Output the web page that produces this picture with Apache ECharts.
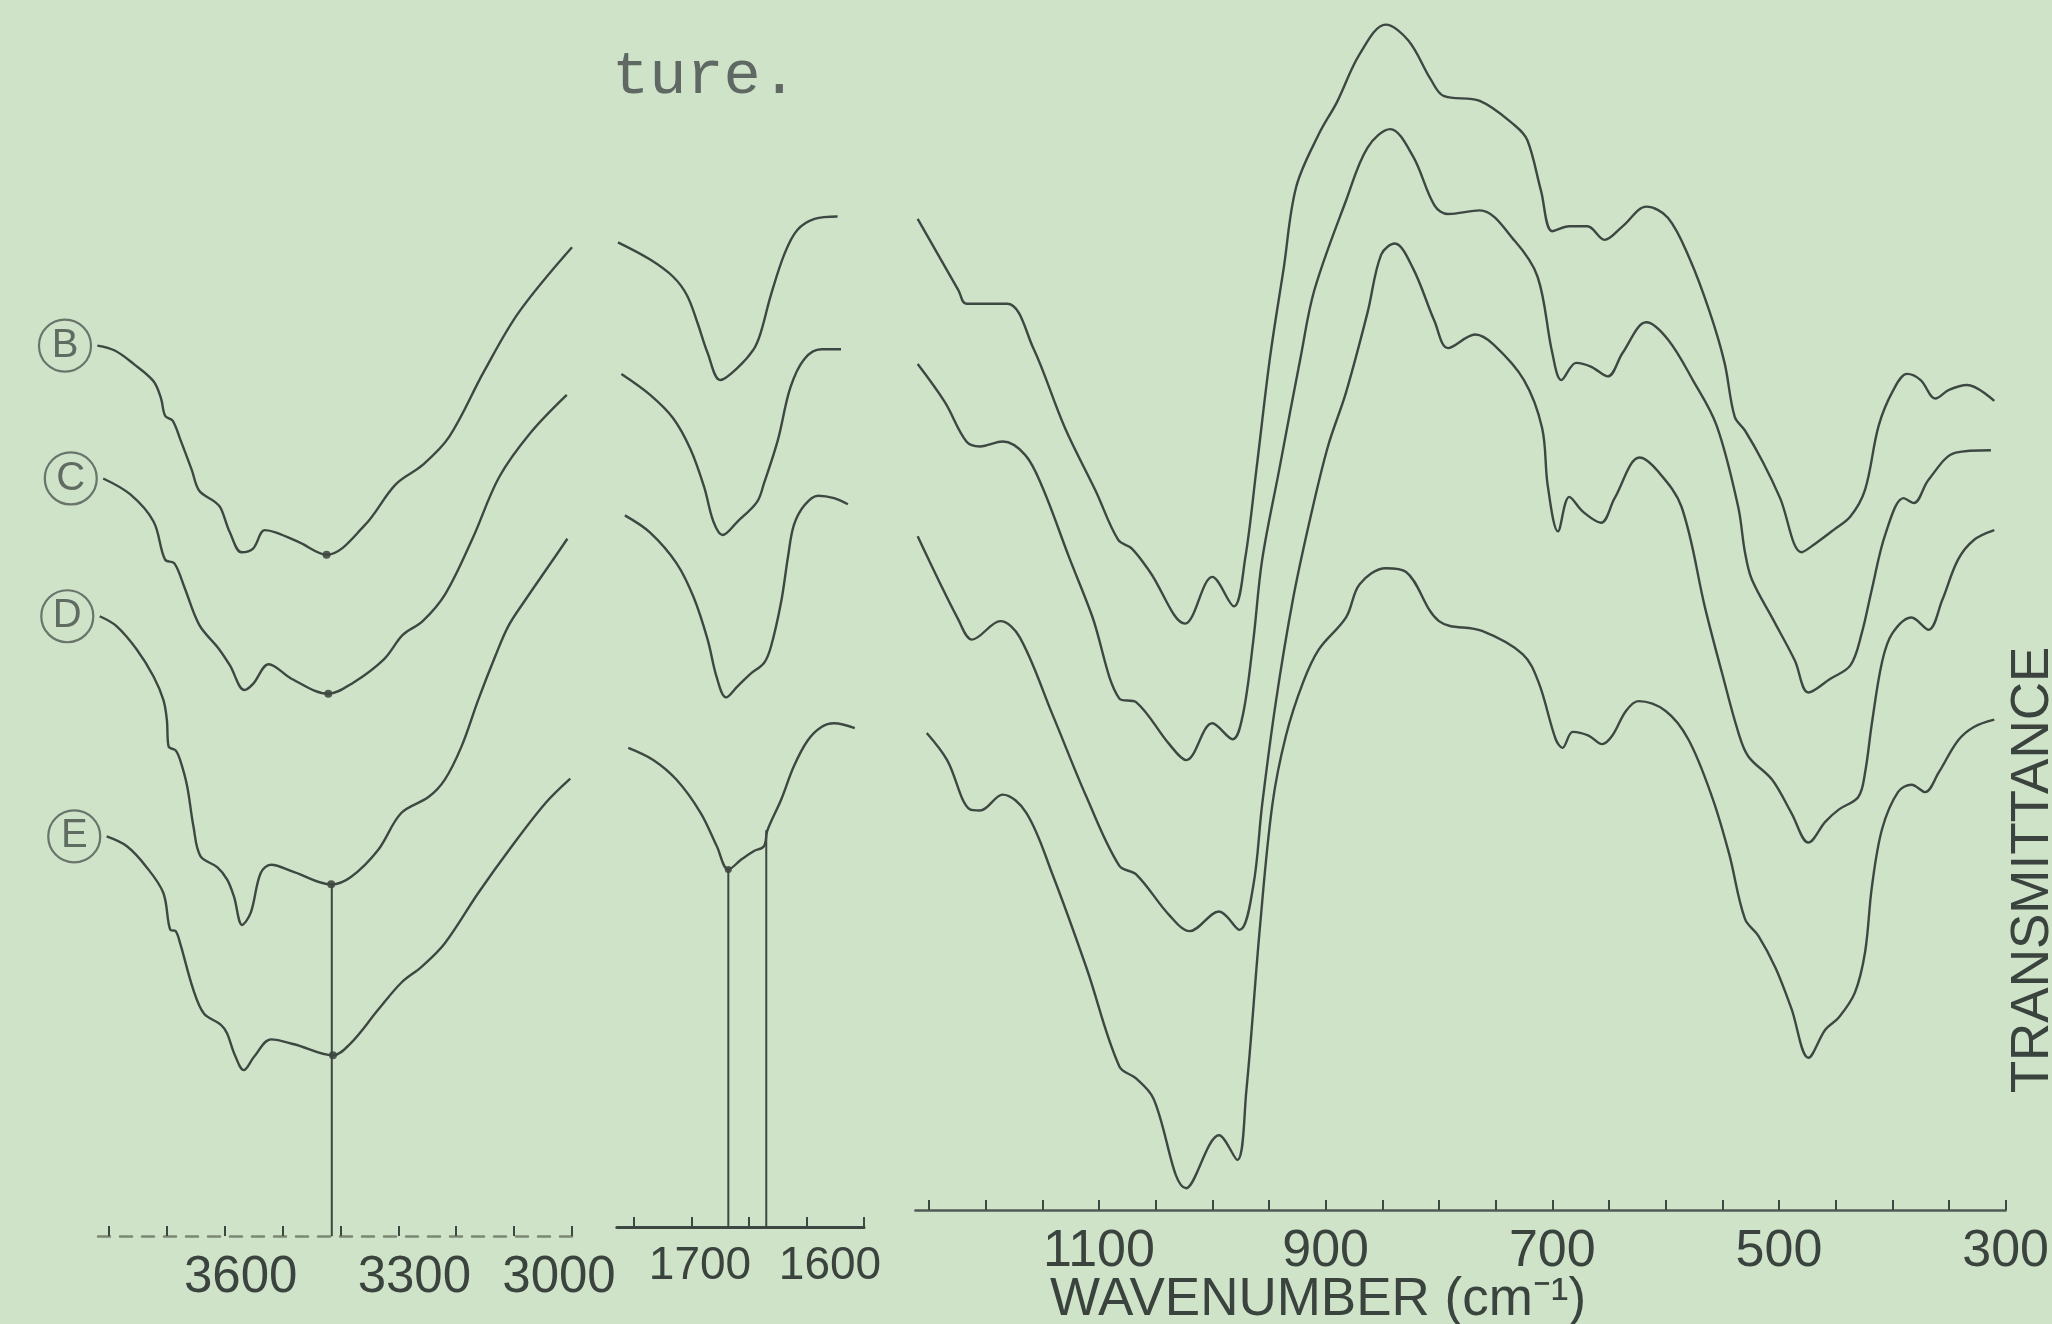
<!DOCTYPE html>
<html>
<head>
<meta charset="utf-8">
<title>IR spectra B-E</title>
<script src="https://cdn.jsdelivr.net/npm/echarts/dist/echarts.min.js"></script>
<style>
  html, body { margin: 0; padding: 0; background: #cfe3c9; }
  #chart { width: 2052px; height: 1324px; }
</style>
</head>
<body>
<div id="chart"></div>
<script>
// samples, top to bottom
const samples = ['B', 'C', 'D', 'E'];

// [wavenumber cm-1, transmittance (offset, arbitrary units)] -- 3800-3000 region
const B_OH = [[3820,71.9],[3790,71.5],[3757,70.4],[3723,69.0],[3710,67.6],[3703,66.2],[3690,65.8],[3677,64.3],[3657,61.8],[3644,60.1],[3617,59.2],[3607,58.7],[3591,56.7],[3571,55.1],[3551,55.4],[3531,56.9],[3511,56.7],[3471,55.9],[3424,54.9],[3358,57.3],[3305,60.6],[3258,62.2],[3212,64.5],[3152,69.8],[3092,74.6],[3000,79.9]];
const C_OH = [[3810,61.1],[3763,59.8],[3723,57.6],[3703,54.5],[3687,54.2],[3670,52.3],[3644,49.2],[3611,47.3],[3591,45.9],[3566,43.9],[3551,44.4],[3524,46.0],[3484,44.8],[3421,43.6],[3378,44.5],[3325,46.4],[3292,48.4],[3258,49.5],[3219,51.7],[3172,56.2],[3126,61.2],[3072,64.8],[3009,67.9]];
const D_OH = [[3816,49.9],[3787,49.1],[3752,47.2],[3723,45.0],[3706,43.1],[3700,41.5],[3697,39.3],[3685,39.0],[3677,38.2],[3665,36.1],[3654,32.8],[3642,30.4],[3613,29.5],[3596,28.5],[3584,27.1],[3570,24.8],[3555,25.8],[3538,29.0],[3520,29.7],[3480,29.1],[3416,28.1],[3382,28.7],[3335,30.9],[3295,33.9],[3248,35.2],[3220,36.6],[3191,39.3],[3162,43.1],[3133,46.6],[3110,49.1],[3081,51.2],[3040,54.0],[3008,56.2]];
const E_OH = [[3804,32.0],[3769,31.2],[3735,29.5],[3706,27.4],[3694,24.4],[3685,24.3],[3677,23.3],[3654,19.5],[3636,17.6],[3607,16.7],[3596,16.0],[3584,14.4],[3567,13.0],[3549,14.1],[3520,15.5],[3480,15.1],[3413,14.2],[3382,15.2],[3335,17.9],[3295,20.1],[3260,21.4],[3220,23.3],[3162,27.4],[3104,31.2],[3046,34.7],[3003,36.7]];

// 1750-1550 region
const B_CO = [[1764,80.3],[1736,78.9],[1716,77.5],[1704,76.0],[1695,73.8],[1686,71.3],[1675,69.1],[1660,70.1],[1646,71.6],[1640,72.9],[1631,76.0],[1619,79.4],[1608,81.3],[1593,82.2],[1573,82.4]];
const C_CO = [[1761,69.6],[1736,67.9],[1716,66.0],[1701,63.5],[1689,60.4],[1681,57.6],[1673,56.5],[1660,57.6],[1643,59.2],[1637,60.7],[1625,64.2],[1614,68.5],[1602,70.8],[1587,71.6],[1570,71.6]];
const D_CO = [[1758,58.1],[1736,56.7],[1713,54.2],[1698,51.4],[1686,48.0],[1678,44.9],[1670,43.3],[1660,44.2],[1649,45.2],[1637,46.1],[1631,47.4],[1622,51.1],[1616,54.8],[1611,57.3],[1602,58.9],[1590,59.7],[1576,59.5],[1564,59.0]];
const E_CO = [[1755,39.2],[1733,38.2],[1713,36.6],[1692,33.9],[1678,31.2],[1668,29.3],[1657,30.1],[1646,30.8],[1637,31.2],[1634,32.5],[1622,35.0],[1611,37.7],[1599,39.8],[1587,40.9],[1576,41.2],[1558,40.8]];

// 1250-300 region
const B_LOW = [[1260,82.2],[1224,76.4],[1217,75.3],[1181,75.3],[1158,71.7],[1130,65.2],[1103,60.1],[1083,56.1],[1071,55.4],[1055,53.5],[1024,49.3],[1000,53.1],[981,50.7],[971,54.6],[961,61.9],[949,71.0],[937,78.2],[926,84.8],[906,89.1],[890,91.7],[870,95.6],[847,98.0],[827,96.7],[807,93.5],[796,92.2],[764,91.8],[733,89.8],[722,88.6],[710,84.5],[700,81.2],[685,81.6],[669,81.6],[654,80.5],[638,81.6],[617,83.2],[598,82.3],[579,79.0],[561,74.6],[548,70.5],[539,66.1],[530,65.0],[514,62.4],[499,59.5],[480,55.1],[468,55.8],[452,56.9],[437,58.0],[424,60.2],[412,65.4],[399,68.3],[387,69.6],[375,69.1],[362,67.6],[350,68.3],[334,68.7],[310,67.4]];
const C_LOW = [[1260,70.4],[1236,67.3],[1217,64.1],[1205,63.7],[1185,64.1],[1165,63.0],[1150,60.4],[1126,54.6],[1106,49.9],[1082,43.2],[1067,42.9],[1038,39.5],[1023,38.2],[1000,41.2],[982,39.9],[973,41.9],[964,47.8],[956,54.5],[941,61.8],[922,71.0],[910,76.4],[882,83.7],[863,88.0],[843,89.5],[823,87.3],[804,83.3],[792,82.6],[764,82.9],[733,80.4],[713,77.5],[700,71.3],[692,69.1],[679,70.5],[666,70.2],[651,69.4],[638,71.3],[617,73.8],[598,72.4],[576,69.1],[555,65.4],[536,58.8],[530,55.1],[524,52.9],[505,49.6],[486,46.3],[474,43.7],[455,44.8],[437,45.9],[427,48.5],[418,52.1],[406,56.6],[390,59.5],[381,59.1],[368,61.0],[344,63.2],[313,63.4]];
const D_LOW = [[1260,56.4],[1224,49.6],[1212,48.0],[1187,49.5],[1170,48.2],[1141,41.9],[1111,35.2],[1082,29.6],[1067,28.9],[1038,25.6],[1020,24.3],[994,25.9],[976,24.4],[964,27.9],[956,34.6],[944,42.9],[929,51.2],[914,57.7],[898,63.7],[882,68.1],[863,74.6],[851,79.3],[839,80.2],[823,78.2],[804,73.9],[792,71.7],[768,72.8],[752,72.0],[725,69.1],[709,65.2],[704,60.5],[695,56.8],[685,59.6],[673,58.4],[657,57.5],[645,59.5],[623,62.8],[607,61.7],[586,58.8],[565,50.5],[550,45.2],[536,40.5],[527,38.5],[506,36.6],[489,33.9],[474,31.5],[459,33.2],[447,34.2],[430,35.2],[424,37.2],[418,41.2],[409,46.2],[400,48.5],[383,49.8],[368,48.8],[356,51.2],[342,54.5],[328,56.1],[310,56.9]];
const E_LOW = [[1252,40.4],[1234,38.2],[1214,34.2],[1205,34.1],[1185,35.4],[1164,33.9],[1141,28.9],[1111,21.3],[1082,13.3],[1067,12.3],[1052,10.7],[1023,3.4],[994,7.7],[978,5.7],[970,11.3],[958,24.6],[947,34.6],[935,40.2],[920,44.5],[906,47.2],[882,49.8],[870,52.5],[847,53.8],[829,53.5],[800,49.5],[762,48.7],[726,46.8],[712,44.5],[697,39.9],[691,39.2],[682,40.5],[668,40.2],[656,39.5],[647,40.2],[635,42.2],[624,43.0],[600,42.2],[580,39.9],[559,35.2],[544,30.6],[530,25.3],[518,23.9],[503,21.3],[489,18.0],[474,14.0],[459,16.3],[447,17.3],[433,19.3],[424,22.6],[418,27.9],[409,32.6],[395,35.6],[383,36.2],[371,35.6],[359,37.2],[342,39.8],[328,40.9],[310,41.5]];

// tick labels
const ticksOH = [3600, 3300, 3000];
const ticksCO = [1700, 1600];
const ticksLow = [1100, 900, 700, 500, 300];

// marked band positions (cm-1)
const markOH = 3415;
const marksCO = [1668, 1635];

const ink = '#3e4842';
const paper = '#cfe3c9';

function nearest(arr, x) {
  let best = arr[0];
  arr.forEach(p => { if (Math.abs(p[0] - x) < Math.abs(best[0] - x)) best = p; });
  return best;
}

const regions = [
  { data: [B_OH, C_OH, D_OH, E_OH] },
  { data: [B_CO, C_CO, D_CO, E_CO] },
  { data: [B_LOW, C_LOW, D_LOW, E_LOW] }
];

let myChart = echarts.init(document.getElementById('chart'), null, { renderer: 'canvas' });

let series = [];
regions.forEach((r, gi) => {
  r.data.forEach((d, si) => {
    series.push({
      name: samples[si] + gi,
      type: 'line',
      xAxisIndex: gi,
      yAxisIndex: gi,
      data: d,
      showSymbol: false,
      smooth: 0.35,
      clip: false,
      lineStyle: { color: ink, width: 2.4 },
      z: 3
    });
  });
});

// sample tags (circled letters) just left of each trace start
const tags = regions[0].data.map((d, i) => ({ name: samples[i], value: [d[0][0] + 56, d[0][1]] }));
series.push({
  type: 'scatter',
  xAxisIndex: 0, yAxisIndex: 0,
  clip: false,
  symbol: 'circle',
  symbolSize: 52,
  itemStyle: { color: 'rgba(0,0,0,0)', borderColor: '#4f5953', borderWidth: 2.2 },
  label: { show: true, position: 'inside', formatter: '{b}', color: '#434d47', fontSize: 40, fontFamily: 'Liberation Sans' },
  data: tags,
  z: 4
});

// vertical guide in OH region: from axis up to curve D
const dTop = nearest(D_OH, markOH);
series.push({
  type: 'line', xAxisIndex: 0, yAxisIndex: 0, clip: false, showSymbol: false,
  lineStyle: { color: ink, width: 2 },
  data: [[markOH, -0.5], [markOH, dTop[1]]]
});
// dots where the guide meets each trace
series.push({
  type: 'scatter', xAxisIndex: 0, yAxisIndex: 0, clip: false,
  symbolSize: 8, itemStyle: { color: '#2e3632' },
  data: regions[0].data.map(d => nearest(d, markOH))
});

// vertical guides in carbonyl region, up to curve E
marksCO.forEach(m => {
  const top = nearest(E_CO, m);
  series.push({
    type: 'line', xAxisIndex: 1, yAxisIndex: 1, clip: false, showSymbol: false,
    lineStyle: { color: ink, width: 2 },
    data: [[m, 0.3], [m, top[1]]]
  });
});
series.push({
  type: 'scatter', xAxisIndex: 1, yAxisIndex: 1, clip: false,
  symbolSize: 7, itemStyle: { color: '#2e3632' },
  data: [nearest(E_CO, marksCO[0])]
});

// labels sit a little off their ticks in the original; nudge them with rich padding
const labelText = { fontFamily: 'Liberation Sans', color: '#3a433d' };
const nudge = {
  3600: [0, 0, 0, 32], 3300: [0, 0, 0, 32], 3000: [0, 26, 0, 0],
  1700: [0, 0, 0, 17], 1600: [0, 0, 0, 47]
};
function nudged(ticks, size) {
  const rich = {};
  ticks.forEach(t => { rich['t' + t] = Object.assign({ fontSize: size, padding: nudge[t] || [0, 0, 0, 0] }, labelText); });
  return {
    fontSize: size,
    formatter: v => ticks.includes(v) ? '{t' + v + '|' + v + '}' : '',
    rich: rich
  };
}

function xAxisFor(gi, min, max, interval, ticks, offset, line, label) {
  return {
    gridIndex: gi,
    type: 'value',
    inverse: true,
    min: min, max: max, interval: interval,
    offset: offset,
    axisLine: { show: true, onZero: false, lineStyle: line },
    axisTick: { show: true, inside: true, length: 10, lineStyle: { color: ink, width: 2 } },
    axisLabel: Object.assign({
      show: true, margin: 16,
      color: '#3a433d', fontSize: 52, fontFamily: 'Liberation Sans',
      showMinLabel: true, showMaxLabel: false,
      formatter: v => ticks.includes(v) ? String(v) : ''
    }, label || {}),
    splitLine: { show: false }
  };
}

let option = {
  backgroundColor: paper,
  animation: false,
  grid: [
    { left: 91.6, width: 480.4, top: 0, height: 1230 },
    { left: 616.8, width: 247.2, top: 0, height: 1230 },
    { left: 915.4, width: 1090.6, top: 0, height: 1230 }
  ],
  xAxis: [
    xAxisFor(0, 3000, 3830, 100, ticksOH, 6,
      { color: '#7a8874', width: 2.5, type: [12, 10] }, nudged(ticksOH, 51)),
    xAxisFor(1, 1550, 1765, 50, ticksCO, -3,
      { color: ink, width: 3, type: 'solid' }, nudged(ticksCO, 46)),
    xAxisFor(2, 300, 1262, 50, ticksLow, -20,
      { color: '#505b54', width: 2.5, type: 'solid' })
  ],
  yAxis: [0, 1, 2].map(i => ({ gridIndex: i, type: 'value', min: 0, max: 100, show: false })),
  graphic: [
    {
      type: 'text', left: 612, top: 46,
      style: { text: 'ture.', fontSize: 62, fontFamily: 'Liberation Mono', fill: '#5f6862' }
    },
    {
      type: 'text', left: 1050, top: 1274,
      style: { text: 'WAVENUMBER (cm\u207B\u00B9)', fontSize: 53, fontFamily: 'Liberation Sans', fill: '#3a433d' }
    },
    {
      type: 'text', x: 2033, y: 870, rotation: Math.PI / 2,
      style: { text: 'TRANSMITTANCE', fontSize: 53, fontFamily: 'Liberation Sans', fill: '#3a433d', align: 'center', verticalAlign: 'middle' }
    }
  ],
  series: series
};

myChart.setOption(option);
</script>
</body>
</html>
